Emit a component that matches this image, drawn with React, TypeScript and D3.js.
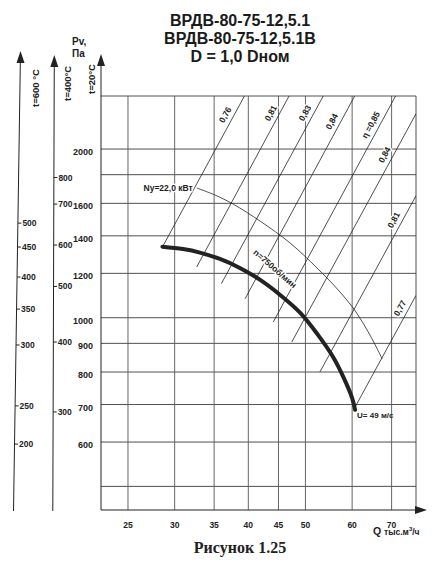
import * as d3 from 'd3';

// Q, thousand m3/h (log axis)
const qTicks = [25, 30, 35, 40, 45, 50, 60, 70];
// Pv, Pa at t=20 °C (log axis)
const pGrid = [2000, 1800, 1600, 1400, 1200, 1000, 900, 800, 700, 600, 500];
const pTicks = [2000, 1600, 1400, 1200, 1000, 900, 800, 700, 600];

// temperature scales: label and the Pv at 20 °C it stands against
const t400Ticks = [800, 700, 600, 500, 400, 300];
const t400At20 = [1779, 1595, 1348, 1137, 905, 679];
const t600Ticks = [500, 450, 400, 350, 300, 250, 200];
const t600At20 = [1475, 1337, 1182, 1036, 894, 696, 595];

// pressure curve, n = 750 rpm
const curveQ = [28.6, 31.0, 33.1, 35.8, 38.7, 41.9, 45.3, 49.0, 52.5, 55.7, 58.3, 60.0, 60.7];
const curveP = [1339, 1326, 1307, 1273, 1227, 1168, 1098, 1020, 932, 851, 774, 719, 685];

// power line Ny = 22 kW
const powerQ = [32.7, 35.1, 37.7, 41.9, 47.1, 52.3, 57.2, 60.9, 64.3, 67.5];
const powerP = [1704, 1656, 1595, 1487, 1359, 1227, 1112, 1024, 932, 844];

// efficiency lines (start -> end) and where their labels sit
const etaLabels = ['0,76', '0,81', '0,83', '0,84', 'η =0,85', '0,84', '0,81', '0,77'];
const etaQ0 = [28.6, 32.7, 36.0, 39.5, 44.1, 47.4, 52.9, 60.3];
const etaP0 = [1337, 1232, 1150, 1081, 983, 905, 800, 684];
const etaQ1 = [39.4, 46.9, 53.6, 60.6, 71.1, 77, 77, 77];
const etaP1 = [2487, 2487, 2487, 2487, 2487, 2312, 1651, 1096];
const etaLabelP = [2266, 2282, 2282, 2205, 2174, 1922, 1471, 1024];

const FONT = "'Liberation Sans', Arial, sans-serif";

export default function App() {
  const width = 448;
  const height = 573;

  const x = d3.scaleLog().domain([22.5, 77]).range([101, 416]);
  const y = d3.scaleLog().domain([453.8, 2487]).range([510, 96]);
  const [left, right] = x.range();
  const [bottom, top] = y.range();

  const smooth = d3
    .line<[number, number]>()
    .x((d) => x(d[0]))
    .y((d) => y(d[1]))
    .curve(d3.curveCatmullRom);

  const curvePts = curveQ.map((q, i) => [q, curveP[i]] as [number, number]);
  const powerPts = powerQ.map((q, i) => [q, powerP[i]] as [number, number]);

  // side axes (slightly tilted in the scan)
  const sideAxis = (xt: number, xb: number, tip: number) => (py: number) =>
    xt + ((py - tip) * (xb - xt)) / (511 - tip);
  const ax600 = sideAxis(20.5, 13.5, 51);
  const ax400 = sideAxis(54.3, 52.8, 55);

  const arrowUp = (ax: number, tip: number) =>
    `${ax},${tip} ${ax - 4},${tip + 12} ${ax + 4},${tip + 12}`;

  const halo = { paintOrder: 'stroke' as const, stroke: '#fff', strokeWidth: 3, strokeLinejoin: 'round' as const };

  const cEnd = curvePts[curvePts.length - 1];
  const pStart = powerPts[0];

  return (
    <svg
      width={width}
      height={height}
      style={{ position: 'absolute', left: 0, top: 0, background: '#fff' }}
      fontFamily={FONT}
      fontWeight="bold"
      fill="#222"
    >
      <defs>
        <clipPath id="plot">
          <rect x={left} y={top} width={right - left} height={bottom - top} />
        </clipPath>
      </defs>

      {/* title */}
      <g fontSize={16} textAnchor="middle" fill="#1a1a1a">
        <text x={240} y={26}>ВРДВ-80-75-12,5.1</text>
        <text x={240} y={44}>ВРДВ-80-75-12,5.1В</text>
        <text x={240} y={62}>D = 1,0 Dном</text>
      </g>

      {/* grid */}
      <g stroke="#3c3c3c" strokeWidth={0.9}>
        {pGrid.map((p) => (
          <line key={'h' + p} x1={left} x2={right} y1={y(p)} y2={y(p)} />
        ))}
        {qTicks.map((q) => (
          <line key={'v' + q} x1={x(q)} x2={x(q)} y1={top} y2={bottom} stroke="#555" />
        ))}
        <line x1={left} x2={right} y1={top} y2={top} />
        <line x1={right} x2={right} y1={top} y2={bottom} />
      </g>

      {/* efficiency lines */}
      <g clipPath="url(#plot)" stroke="#222" strokeWidth={0.8}>
        {etaQ0.map((q0, i) => (
          <line key={'e' + i} x1={x(q0)} y1={y(etaP0[i])} x2={x(etaQ1[i])} y2={y(etaP1[i])} />
        ))}
      </g>

      {/* power line */}
      <path d={smooth(powerPts) ?? ''} fill="none" stroke="#222" strokeWidth={0.8} />

      {/* main curve */}
      <path d={smooth(curvePts) ?? ''} fill="none" stroke="#222" strokeWidth={4} strokeLinecap="round" />

      {/* efficiency labels */}
      <g fontSize={8.5} textAnchor="middle">
        {etaLabels.map((lab, i) => {
          const lp0 = Math.log(etaP0[i]);
          const lp1 = Math.log(etaP1[i]);
          const t = (Math.log(etaLabelP[i]) - lp0) / (lp1 - lp0);
          const q = etaQ0[i] * Math.pow(etaQ1[i] / etaQ0[i], t);
          const dx = x(etaQ1[i]) - x(etaQ0[i]);
          const dy = y(etaP1[i]) - y(etaP0[i]);
          const len = Math.hypot(dx, dy);
          const off = 8;
          const cx = x(q) + (dy / len) * off;
          const cy = y(etaLabelP[i]) - (dx / len) * off;
          const ang = (Math.atan2(dy, dx) * 180) / Math.PI;
          return (
            <text key={'el' + i} x={cx} y={cy} dy="0.35em" transform={`rotate(${ang},${cx},${cy})`} style={halo}>
              {lab}
            </text>
          );
        })}
      </g>

      {/* curve annotations */}
      <text
        x={x(44.4)}
        y={y(1223)}
        dy="0.35em"
        fontSize={8.5}
        textAnchor="middle"
        transform={`rotate(41,${x(44.4)},${y(1223)})`}
        style={halo}
      >
        n=750об/мин
      </text>
      <text x={x(pStart[0]) - 4} y={y(pStart[1]) + 3} fontSize={8.5} textAnchor="end" style={halo}>
        Ny=22,0 кВт
      </text>
      <text x={x(cEnd[0]) + 2} y={y(cEnd[1]) + 8} fontSize={8}>
        U= 49 м/с
      </text>

      {/* left (t=20) axis */}
      <line x1={left} x2={left} y1={60} y2={bottom} stroke="#222" strokeWidth={1} />
      <polygon points={arrowUp(left, 54)} fill="#222" />
      <g fontSize={9} textAnchor="end">
        {pTicks.map((p) => (
          <text key={'pt' + p} x={93} y={y(p) + 6}>
            {p}
          </text>
        ))}
      </g>
      <text x={72} y={45} fontSize={10}>Pv,</text>
      <text x={72} y={57} fontSize={10}>Па</text>

      {/* t=400 axis */}
      <line x1={ax400(59)} y1={59} x2={ax400(511)} y2={511} stroke="#222" strokeWidth={1} />
      <polygon points={arrowUp(ax400(55), 55)} fill="#222" />
      <g fontSize={8.5}>
        {t400Ticks.map((t, i) => {
          const py = y(t400At20[i]);
          const ax = ax400(py);
          return (
            <g key={'t4' + t}>
              <line x1={ax} x2={ax + 3.5} y1={py} y2={py} stroke="#222" strokeWidth={1} />
              <text x={ax + 4.5} y={py} dy="0.35em">{t}</text>
            </g>
          );
        })}
      </g>

      {/* t=600 axis */}
      <line x1={ax600(55)} y1={55} x2={ax600(511)} y2={511} stroke="#222" strokeWidth={1} />
      <polygon points={arrowUp(ax600(51), 51)} fill="#222" />
      <g fontSize={8.5}>
        {t600Ticks.map((t, i) => {
          const py = y(t600At20[i]);
          const ax = ax600(py);
          return (
            <g key={'t6' + t}>
              <line x1={ax} x2={ax + 3.5} y1={py} y2={py} stroke="#222" strokeWidth={1} />
              <text x={ax + 4.5} y={py} dy="0.35em">{t}</text>
            </g>
          );
        })}
      </g>

      {/* axis titles, vertical */}
      <g fontSize={9.5}>
        <text x={39} y={107} transform="rotate(-90,39,107)">t=600 °C</text>
        <text x={71} y={101} transform="rotate(-90,71,101)">t=400°C</text>
        <text x={95} y={94} transform="rotate(-90,95,94)">t=20°C</text>
      </g>

      {/* bottom axis */}
      <line x1={left} x2={right + 4} y1={bottom} y2={bottom} stroke="#222" strokeWidth={1} />
      <polygon points={`${right + 11},${bottom} ${right - 1},${bottom - 4} ${right - 1},${bottom + 4}`} fill="#222" />
      <g fontSize={8.5} textAnchor="middle">
        {qTicks.map((q) => (
          <text key={'qt' + q} x={x(q)} y={528}>
            {q}
          </text>
        ))}
      </g>
      <text x={373} y={535} fontSize={10.5}>
        Q <tspan fontSize={8.5}>тыс.м</tspan>
        <tspan fontSize={6} dy={-4}>3</tspan>
        <tspan fontSize={8.5} dy={4}>/ч</tspan>
      </text>

      <text x={240} y={553} fontSize={16} textAnchor="middle" fontFamily="'Liberation Serif', 'Times New Roman', serif">
        Рисунок 1.25
      </text>
    </svg>
  );
}
